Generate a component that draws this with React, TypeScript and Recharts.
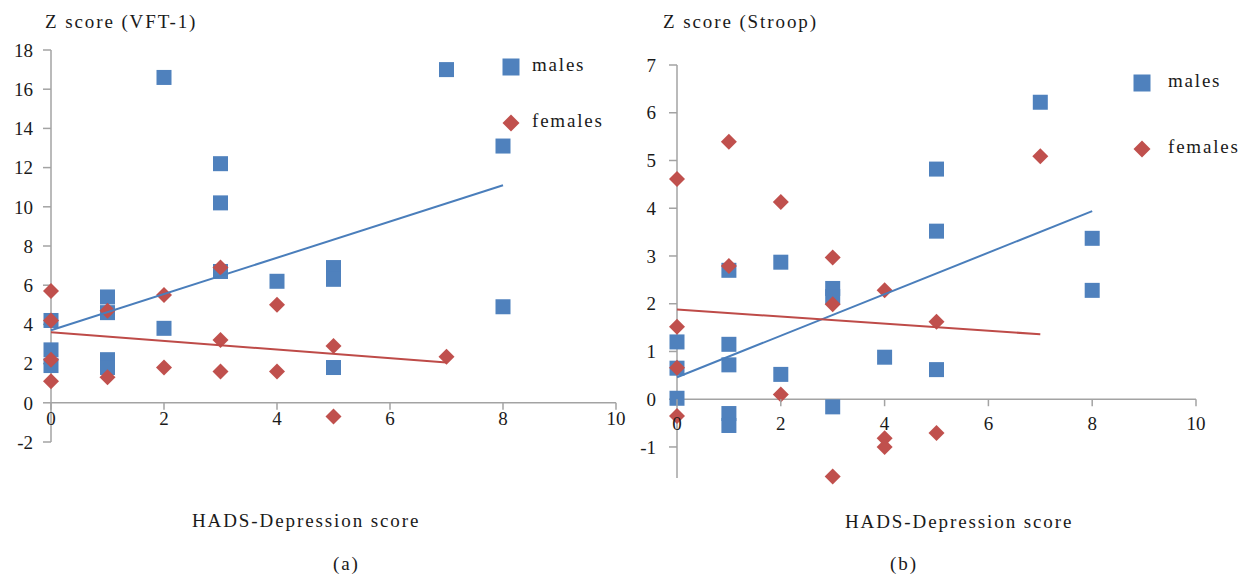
import React from 'react';
import { ScatterChart, Scatter, XAxis, YAxis, ReferenceLine, Legend } from 'recharts';

// depression score ticks shared by both panels
const xTicks = [0, 2, 4, 6, 8, 10];
const vftTicks = [-2, 0, 2, 4, 6, 8, 10, 12, 14, 16, 18];
const stroopTicks = [-1, 0, 1, 2, 3, 4, 5, 6, 7];
const seriesNames = ['males', 'females'];

// (a) VFT-1
const vftMales = [
    { x: 0, y: 4.2 }, { x: 0, y: 2.7 }, { x: 0, y: 1.9 },
    { x: 1, y: 5.4 }, { x: 1, y: 4.6 }, { x: 1, y: 2.2 }, { x: 1, y: 1.8 },
    { x: 2, y: 16.6 }, { x: 2, y: 3.8 },
    { x: 3, y: 12.2 }, { x: 3, y: 10.2 }, { x: 3, y: 6.7 },
    { x: 4, y: 6.2 },
    { x: 5, y: 6.9 }, { x: 5, y: 6.3 }, { x: 5, y: 1.8 },
    { x: 7, y: 17.0 },
    { x: 8, y: 13.1 }, { x: 8, y: 4.9 },
];
const vftFemales = [
    { x: 0, y: 5.7 }, { x: 0, y: 4.2 }, { x: 0, y: 2.2 }, { x: 0, y: 1.1 },
    { x: 1, y: 4.7 }, { x: 1, y: 1.3 },
    { x: 2, y: 5.5 }, { x: 2, y: 1.8 },
    { x: 3, y: 6.9 }, { x: 3, y: 3.2 }, { x: 3, y: 1.6 },
    { x: 4, y: 5.0 }, { x: 4, y: 1.6 },
    { x: 5, y: 2.9 }, { x: 5, y: -0.7 },
    { x: 7, y: 2.35 },
];
const vftMaleTrend = [{ x: 0, y: 3.7 }, { x: 8, y: 11.1 }];
const vftFemaleTrend = [{ x: 0, y: 3.6 }, { x: 7, y: 2.05 }];

// (b) Stroop
const stroopMales = [
    { x: 0, y: 1.2 }, { x: 0, y: 0.65 }, { x: 0, y: 0.02 },
    { x: 1, y: 2.7 }, { x: 1, y: 1.15 }, { x: 1, y: 0.72 }, { x: 1, y: -0.3 }, { x: 1, y: -0.55 },
    { x: 2, y: 2.87 }, { x: 2, y: 0.52 },
    { x: 3, y: 2.32 }, { x: 3, y: 2.15 }, { x: 3, y: -0.16 },
    { x: 4, y: 0.88 },
    { x: 5, y: 4.82 }, { x: 5, y: 3.52 }, { x: 5, y: 0.62 },
    { x: 7, y: 6.22 },
    { x: 8, y: 3.37 }, { x: 8, y: 2.28 },
];
const stroopFemales = [
    { x: 0, y: 4.61 }, { x: 0, y: 1.52 }, { x: 0, y: 0.66 }, { x: 0, y: -0.35 },
    { x: 1, y: 5.39 }, { x: 1, y: 2.79 },
    { x: 2, y: 4.13 }, { x: 2, y: 0.1 },
    { x: 3, y: 2.97 }, { x: 3, y: 1.99 }, { x: 3, y: -1.62 },
    { x: 4, y: 2.28 }, { x: 4, y: -0.82 }, { x: 4, y: -1.0 },
    { x: 5, y: 1.62 }, { x: 5, y: -0.71 },
    { x: 7, y: 5.09 },
];
const stroopMaleTrend = [{ x: 0, y: 0.46 }, { x: 8, y: 3.94 }];
const stroopFemaleTrend = [{ x: 0, y: 1.88 }, { x: 7, y: 1.36 }];

const BLUE = '#4f81bd';
const RED = '#c0504d';
const BLUE_LINE = '#4a7ebb';
const RED_LINE = '#be4b48';
const AXIS = '#a3a3a3';
const INK = '#1a1a1a';
const FONT = 'Liberation Serif, Times New Roman, serif';
const CHART_H = 575;
const X_AXIS_H = 30;

const Square = (props: any) => {
    const { cx, cy } = props;
    return <rect x={cx - 7.5} y={cy - 7.5} width={15} height={15} fill={BLUE} />;
};

const Diamond = (props: any) => {
    const { cx, cy } = props;
    return <polygon points={`${cx},${cy - 8} ${cx + 8},${cy} ${cx},${cy + 8} ${cx - 8},${cy}`} fill={RED} />;
};

const NoDot = () => <g />;

interface PanelProps {
    offsetX: number;
    width: number;
    margin: { top: number; right: number; bottom: number; left: number };
    yDomain: [number, number];
    yTicks: number[];
    yTickMargin: number;
    xLabelDy: number;
    males: { x: number; y: number }[];
    females: { x: number; y: number }[];
    maleTrend: { x: number; y: number }[];
    femaleTrend: { x: number; y: number }[];
    legend: { left: number; top: number; gap: number; textX: number };
}

function Panel(p: PanelProps) {
    const plotH = CHART_H - p.margin.top - p.margin.bottom - X_AXIS_H;
    // the category axis crosses at y = 0, like the Excel original
    const zeroY = p.margin.top + (plotH * p.yDomain[1]) / (p.yDomain[1] - p.yDomain[0]);

    const XTick = (props: any) => {
        const { x, payload } = props;
        return (
            <g>
                <line x1={x} y1={zeroY} x2={x} y2={zeroY + 7} stroke={AXIS} strokeWidth={1.5} />
                <text x={x} y={zeroY + p.xLabelDy} textAnchor="middle" fill={INK} fontSize={19} style={{ fontFamily: FONT }}>
                    {payload.value}
                </text>
            </g>
        );
    };

    const renderLegend = (props: any) => {
        // trend lines carry no legend entry; keep males above females
        const items = (props.payload || [])
            .filter((e: any) => e.type !== 'none' && seriesNames.includes(e.value))
            .sort((a: any, b: any) => seriesNames.indexOf(a.value) - seriesNames.indexOf(b.value));
        return (
            <svg width={140} height={p.legend.gap + 40}>
                {items.map((entry: any, i: number) => {
                    const cy = 17 + i * p.legend.gap;
                    return (
                        <g key={`legend-${entry.value}`}>
                            {entry.value === 'males' ? (
                                <rect x={11 - 8.5} y={cy - 8.5} width={17} height={17} fill={BLUE} />
                            ) : (
                                <polygon points={`11,${cy - 8.5} 19.5,${cy} 11,${cy + 8.5} 2.5,${cy}`} fill={RED} />
                            )}
                            <text x={p.legend.textX} y={cy + 4} fill={INK} fontSize={19} letterSpacing={1.8} style={{ fontFamily: FONT }}>
                                {entry.value}
                            </text>
                        </g>
                    );
                })}
            </svg>
        );
    };

    return (
        <div style={{ position: 'absolute', left: p.offsetX, top: 0 }}>
            <ScatterChart width={p.width} height={CHART_H} margin={p.margin}>
                <XAxis
                    dataKey="x"
                    type="number"
                    domain={[0, 10]}
                    ticks={xTicks}
                    interval={0}
                    axisLine={false}
                    tickLine={false}
                    tick={XTick}
                    height={X_AXIS_H}
                />
                <YAxis
                    dataKey="y"
                    type="number"
                    domain={p.yDomain}
                    ticks={p.yTicks}
                    interval={0}
                    width={40}
                    stroke={AXIS}
                    strokeWidth={1.5}
                    tickSize={8}
                    tickMargin={p.yTickMargin}
                    tick={{ fill: INK, fontSize: 19, style: { fontFamily: FONT } }}
                />
                <ReferenceLine y={0} stroke={AXIS} strokeWidth={1.5} />
                <Scatter name="males" data={p.males} shape={Square} fill={BLUE} isAnimationActive={false} />
                <Scatter name="females" data={p.females} shape={Diamond} fill={RED} isAnimationActive={false} />
                <Scatter
                    data={p.maleTrend}
                    line={{ stroke: BLUE_LINE, strokeWidth: 2 }}
                    shape={NoDot}
                    legendType="none"
                    isAnimationActive={false}
                />
                <Scatter
                    data={p.femaleTrend}
                    line={{ stroke: RED_LINE, strokeWidth: 2 }}
                    shape={NoDot}
                    legendType="none"
                    isAnimationActive={false}
                />
                <Legend
                    layout="vertical"
                    align="center"
                    verticalAlign="middle"
                    content={renderLegend}
                    wrapperStyle={{ left: p.legend.left, top: p.legend.top, width: 140 }}
                />
            </ScatterChart>
        </div>
    );
}

const textStyle = { fill: INK, fontSize: 19, letterSpacing: 1.9, style: { fontFamily: FONT } };

export default function App() {
    return (
        <div style={{ position: 'absolute', left: 0, top: 0, width: 1248, height: 575, background: '#fff', fontFamily: FONT }}>
            <Panel
                offsetX={0}
                width={640}
                margin={{ top: 50, right: 24, bottom: 103, left: 11 }}
                yDomain={[-2, 18]}
                yTicks={vftTicks}
                yTickMargin={10}
                xLabelDy={22}
                males={vftMales}
                females={vftFemales}
                maleTrend={vftMaleTrend}
                femaleTrend={vftFemaleTrend}
                legend={{ left: 500, top: 50, gap: 56, textX: 32 }}
            />
            <Panel
                offsetX={620}
                width={628}
                margin={{ top: 65, right: 52, bottom: 67, left: 17 }}
                yDomain={[-1.65, 7]}
                yTicks={stroopTicks}
                yTickMargin={13}
                xLabelDy={31}
                males={stroopMales}
                females={stroopFemales}
                maleTrend={stroopMaleTrend}
                femaleTrend={stroopFemaleTrend}
                legend={{ left: 511, top: 66, gap: 66, textX: 37 }}
            />
            <svg width={1248} height={575} style={{ position: 'absolute', left: 0, top: 0, pointerEvents: 'none' }}>
                <text x={45} y={28} {...textStyle}>Z score (VFT-1)</text>
                <text x={663} y={28} {...textStyle}>Z score (Stroop)</text>
                <text x={192} y={527} {...textStyle}>HADS-Depression score</text>
                <text x={845} y={528} {...textStyle}>HADS-Depression score</text>
                <text x={333} y={570} {...textStyle}>(a)</text>
                <text x={890} y={570} {...textStyle}>(b)</text>
            </svg>
        </div>
    );
}
